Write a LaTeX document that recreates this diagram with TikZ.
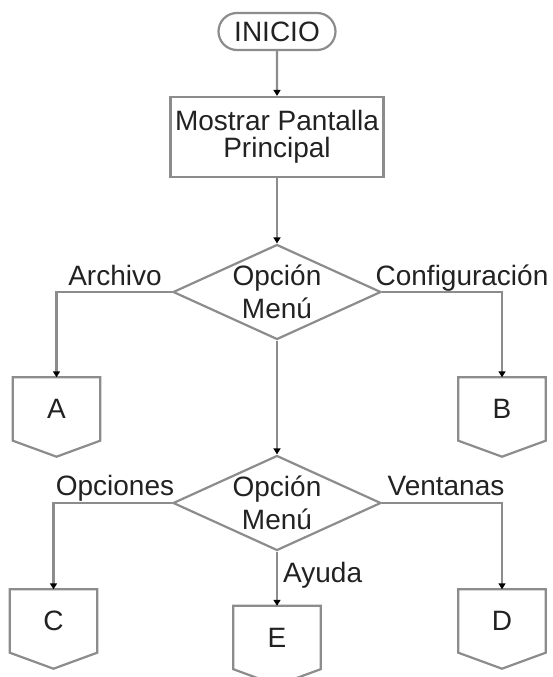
\documentclass[tikz,border=0pt]{standalone}
\usepackage{fontspec}
\setmainfont{Liberation Sans}
\usetikzlibrary{shapes.geometric,shapes.misc,arrows.meta}
\definecolor{ln}{HTML}{8C8C8C}
\definecolor{tx}{HTML}{222222}
\begin{document}
\begin{tikzpicture}[x=1pt,y=-1pt,
 shp/.style={draw=ln,line width=2.2pt,text=tx,inner sep=0pt,font=\fontsize{28}{27}\selectfont},
 term/.style={shp,rounded rectangle,minimum width=117pt,minimum height=37pt},
 procbox/.style={shp,rectangle,minimum width=213pt,minimum height=80pt,align=center},
 dec/.style={shp,diamond,minimum width=208pt,minimum height=95pt},
 dectext/.style={text=tx,align=center,inner sep=0pt,font=\fontsize{28}{33}\selectfont},
 offpg/.style={rectangle,minimum width=87pt,minimum height=63pt,inner sep=0pt,text=tx,font=\fontsize{28}{30}\selectfont},
 offline/.style={draw=ln,line width=2.2pt,line join=miter},
 lbl/.style={text=tx,inner sep=0pt,font=\fontsize{28}{30}\selectfont},
 conn/.style={draw=ln,line width=2.2pt,-{Triangle[length=6pt,width=7pt,color=black]}},
]
\useasboundingbox (0,0) rectangle (552,677);
\clip (0,0) rectangle (552,677);
\fill[white] (0,0) rectangle (552,677);

\node[term] (ini) at (277,31.5) {INICIO};
\node[procbox] (box) at (277,137) {Mostrar Pantalla\\Principal};
\node[dec] (d1) at (277,292) {};
\node[dectext] (t1) at (d1) {Opción\\Menú};
\node[dec] (d2) at (277,503) {};
\node[dectext] (t2) at (d2) {Opción\\Menú};

\node[offpg] (A) at (56.5,409) {A};
\node[offpg] (B) at (502,409) {B};
\node[offpg] (C) at (53.5,621) {C};
\node[offpg] (D) at (502,621) {D};
\node[offpg] (E) at (277,637.5) {E};
\foreach \n in {A,B,C,D,E}
  \draw[offline] (\n.north west) -- (\n.north east) -- (\n.south east) -- ([yshift=-16pt]\n.south) -- (\n.south west) -- cycle;

\draw[conn] (ini) -- (box);
\draw[conn] (box) -- (d1);
\draw[conn] (d1.west) -| (A.north);
\draw[conn] (d1.east) -| (B.north);
\draw[conn] (d1.south) -- (d2.north);
\draw[conn] (d2.west) -| (C.north);
\draw[conn] (d2.east) -| (D.north);
\draw[conn] (d2.south) -- (E.north);

\node[lbl,anchor=base] (lA) at (115,285) {Archivo};
\node[lbl,anchor=base] (lB) at (462,285) {Configuración};
\node[lbl,anchor=base] (lC) at (115,495) {Opciones};
\node[lbl,anchor=base] (lD) at (446,495) {Ventanas};
\node[lbl,anchor=base west] (lE) at (283,582) {Ayuda};
\end{tikzpicture}
\end{document}
